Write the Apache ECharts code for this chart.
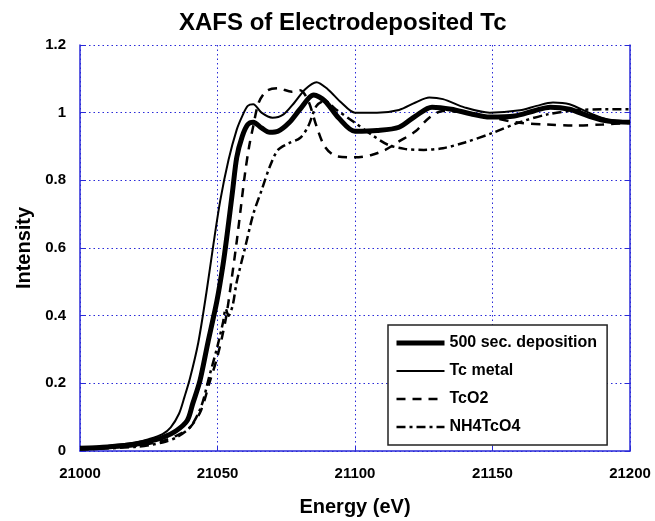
<!DOCTYPE html>
<html>
<head>
<meta charset="utf-8">
<script src="https://cdn.jsdelivr.net/npm/echarts@6/dist/echarts.min.js"></script>
<style>
  html, body { margin: 0; padding: 0; background: #fff; }
  #main { width: 655px; height: 521px; }
</style>
</head>
<body>
<div id="main"></div>
<script>
// energy (eV), intensity pairs
var deposition500 = [
  [21000, 0.008], [21010, 0.012], [21020, 0.02], [21025, 0.028], [21030, 0.04],
  [21035, 0.06], [21039, 0.09], [21041, 0.14], [21043.6, 0.207], [21046.5, 0.32],
  [21049.8, 0.444], [21052, 0.55], [21053.5, 0.64], [21055.5, 0.77], [21057, 0.868],
  [21059, 0.93], [21061, 0.965], [21063, 0.972], [21066, 0.955], [21069, 0.942],
  [21072, 0.945], [21076, 0.97], [21080, 1.01], [21085, 1.052], [21089, 1.035],
  [21094, 0.985], [21100, 0.945], [21108, 0.947], [21116, 0.957], [21122, 0.99],
  [21128, 1.016], [21135, 1.01], [21142, 0.997], [21149, 0.987], [21158, 0.99],
  [21165, 1.005], [21171, 1.016], [21178, 1.01], [21185, 0.99], [21192, 0.975],
  [21200, 0.972]
];
var tcMetal = [
  [21000, 0.01], [21010, 0.015], [21020, 0.025], [21025, 0.035], [21030, 0.05],
  [21033, 0.07], [21036, 0.11], [21038, 0.16], [21040, 0.215], [21043, 0.32],
  [21046, 0.47], [21048.5, 0.61], [21051, 0.74], [21054, 0.86], [21057, 0.95],
  [21059, 0.99], [21061, 1.02], [21063, 1.025], [21066, 1.0], [21070, 0.985],
  [21074, 0.995], [21078, 1.03], [21082, 1.07], [21086, 1.09], [21090, 1.07],
  [21095, 1.03], [21100, 1.0], [21108, 1.0], [21116, 1.008], [21122, 1.03],
  [21127, 1.045], [21132, 1.04], [21140, 1.015], [21149, 1.0], [21160, 1.007],
  [21166, 1.02], [21172, 1.03], [21178, 1.025], [21185, 1.0], [21192, 0.98],
  [21200, 0.975]
];
var tcO2 = [
  [21000, 0.005], [21020, 0.015], [21030, 0.03], [21035, 0.045], [21040, 0.07],
  [21044, 0.12], [21047, 0.2], [21050, 0.28], [21053, 0.39], [21055, 0.5],
  [21057, 0.62], [21058.5, 0.72], [21060, 0.82], [21061.5, 0.9], [21063, 0.96],
  [21065, 1.03], [21068, 1.065], [21072, 1.072], [21077, 1.062], [21080, 1.066],
  [21083, 1.035], [21086, 0.96], [21089, 0.9], [21093, 0.872], [21100, 0.868],
  [21106, 0.875], [21111, 0.89], [21116, 0.915], [21122, 0.945], [21127, 0.985],
  [21132, 1.005], [21140, 1.0], [21150, 0.985], [21160, 0.97], [21170, 0.965],
  [21180, 0.962], [21190, 0.965], [21200, 0.97]
];
var nh4tco4 = [
  [21000, 0.005], [21020, 0.012], [21030, 0.025], [21035, 0.04], [21040, 0.07],
  [21044, 0.13], [21047, 0.22], [21050, 0.31], [21052, 0.38], [21053, 0.42],
  [21054, 0.4], [21055.5, 0.43], [21057, 0.5], [21060, 0.6], [21063, 0.7],
  [21066, 0.77], [21069, 0.84], [21072, 0.89], [21076, 0.91], [21080, 0.925],
  [21083, 0.96], [21086, 1.02], [21089, 1.035], [21093, 1.01], [21100, 0.97],
  [21106, 0.935], [21112, 0.905], [21118, 0.893], [21125, 0.89], [21132, 0.895],
  [21140, 0.912], [21150, 0.94], [21160, 0.972], [21170, 0.995], [21180, 1.007],
  [21190, 1.01], [21200, 1.01]
];
var seriesNames = ['500 sec. deposition', 'Tc metal', 'TcO2', 'NH4TcO4'];

var blue = '#2a2ad8';
var font = '"Liberation Sans", Arial, sans-serif';
var chart = echarts.init(document.getElementById('main'));

var styles = [
  { width: 5, type: 'solid' },
  { width: 2, type: 'solid' },
  { width: 2.5, type: [9, 7] },
  { width: 2.5, type: [9, 4, 3, 4] }
];

var option = {
  animation: false,
  textStyle: { fontFamily: font },
  title: {
    text: 'XAFS of Electrodeposited Tc',
    left: 174, top: 6,
    textStyle: { fontFamily: font, fontSize: 24, fontWeight: 'bold', color: '#000' }
  },
  grid: { left: 80, right: 25, top: 45, bottom: 70, outerBoundsMode: 'none' },
  legend: {
    orient: 'vertical',
    left: 388, top: 325,
    padding: [10, 10, 10, 6],
    itemGap: 12,
    itemWidth: 48, itemHeight: 16,
    backgroundColor: '#fff',
    borderColor: '#222', borderWidth: 1.5,
    itemStyle: { color: 'transparent', borderWidth: 0 },
    data: seriesNames.map(function (n, i) {
      return { name: n, lineStyle: { width: styles[i].width, type: styles[i].type, color: '#000' } };
    }),
    textStyle: { fontFamily: font, fontSize: 16, fontWeight: 'bold', color: '#000' }
  },
  xAxis: {
    type: 'value', min: 21000, max: 21200, interval: 50,
    name: 'Energy (eV)', nameLocation: 'middle', nameGap: 46,
    nameTextStyle: { fontFamily: font, fontSize: 20, fontWeight: 'bold', color: '#000' },
    axisLine: { lineStyle: { color: blue, width: 1.5 } },
    axisTick: { inside: true, length: 5, lineStyle: { color: blue } },
    axisLabel: {
      margin: 15, fontFamily: font, fontSize: 15, fontWeight: 'bold', color: '#000',
      formatter: function (v) { return String(v); }
    },
    splitLine: { show: true, lineStyle: { color: blue, type: [1.5, 3], width: 1 } }
  },
  yAxis: [{
    type: 'value', min: 0, max: 1.2, interval: 0.2,
    name: 'Intensity', nameLocation: 'middle', nameGap: 44,
    nameTextStyle: { fontFamily: font, fontSize: 20, fontWeight: 'bold', color: '#000' },
    axisLine: { show: true, lineStyle: { color: blue, width: 1.5 } },
    axisTick: { show: true, inside: true, length: 5, lineStyle: { color: blue } },
    axisLabel: { margin: 14, fontFamily: font, fontSize: 15, fontWeight: 'bold', color: '#000' },
    splitLine: { show: true, lineStyle: { color: blue, type: [1.5, 3], width: 1 } }
  }, {
    type: 'value', min: 0, max: 1.2, interval: 0.2, position: 'right',
    axisLine: { show: true, lineStyle: { color: blue, width: 1.5 } },
    axisTick: { show: true, inside: true, length: 5, lineStyle: { color: blue } },
    axisLabel: { show: false },
    splitLine: { show: false }
  }],
  series: [
    {
      name: seriesNames[0], type: 'line', data: deposition500, symbol: 'none', smooth: 0.3,
      z: 4, lineStyle: { color: '#000', width: styles[0].width }, itemStyle: { color: '#000' }
    },
    {
      name: seriesNames[1], type: 'line', data: tcMetal, symbol: 'none', smooth: 0.3,
      z: 3, lineStyle: { color: '#000', width: styles[1].width }, itemStyle: { color: '#000' }
    },
    {
      name: seriesNames[2], type: 'line', data: tcO2, symbol: 'none', smooth: 0.3,
      z: 2, lineStyle: { color: '#000', width: styles[2].width, type: styles[2].type }, itemStyle: { color: '#000' }
    },
    {
      name: seriesNames[3], type: 'line', data: nh4tco4, symbol: 'none', smooth: 0.3,
      z: 2, lineStyle: { color: '#000', width: styles[3].width, type: styles[3].type }, itemStyle: { color: '#000' }
    }
  ]
};

chart.setOption(option);
</script>
</body>
</html>
